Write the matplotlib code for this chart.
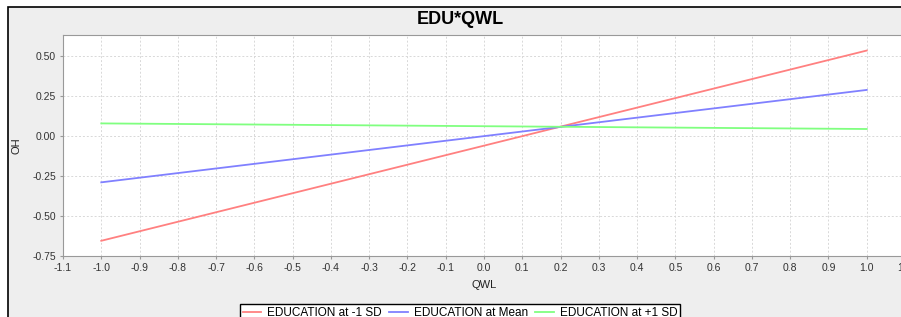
import matplotlib
matplotlib.use('Agg')
import matplotlib.pyplot as plt
from matplotlib.patches import Rectangle

# data
qwl = [-1.0, 1.0]
edu_low = [-0.655, 0.533]
edu_mean = [-0.29, 0.287]
edu_high = [0.078, 0.043]
series_labels = ["EDUCATION at -1 SD", "EDUCATION at Mean", "EDUCATION at +1 SD"]
series_colors = ["#ff8080", "#8080ff", "#80ff80"]

W, H = 901, 317
plt.rcParams['font.family'] = ['Liberation Sans', 'DejaVu Sans']

fig = plt.figure(figsize=(W / 100, H / 100), dpi=100)
fig.patch.set_facecolor('white')

# chart panel (gray, black border on top/left)
panel = Rectangle((8 / W, -0.1), 1.2, 1 - 7 / H + 0.1, transform=fig.transFigure,
                  facecolor='#eeeeee', edgecolor='black', linewidth=1.2, zorder=-5)
fig.patches.append(panel)

left, right, top, bottom = 63, 905, 35, 256
ax = fig.add_axes([left / W, 1 - bottom / H, (right - left) / W, (bottom - top) / H])
ax.set_zorder(1)
ax.set_facecolor('white')

for ys, lab, col in zip([edu_low, edu_mean, edu_high], series_labels, series_colors):
    ax.plot(qwl, ys, color=col, linewidth=1.3, label=lab)

ax.set_xlim(-1.1, 1.1)
ax.set_ylim(-0.75, 0.63)
ax.set_xticks([round(-1.1 + 0.1 * i, 1) for i in range(23)])
ax.set_xticklabels([f"{-1.1 + 0.1 * i:.1f}" for i in range(23)])
ax.set_yticks([-0.75, -0.5, -0.25, 0.0, 0.25, 0.5])
ax.set_yticklabels(["-0.75", "-0.50", "-0.25", "0.00", "0.25", "0.50"])
ax.grid(True, color='#d8d8d8', linestyle=(0, (2, 2)), linewidth=0.7)
ax.set_axisbelow(True)

for s in ['left', 'bottom', 'top']:
    ax.spines[s].set_color('#999999')
ax.spines['right'].set_visible(False)
ax.tick_params(axis='both', labelsize=7.5, colors='#999999', labelcolor='#333333',
               length=2, width=0.8, pad=3)

ax.set_xlabel("QWL", fontsize=8, color='#222222', labelpad=5)
ax.set_ylabel("OH", fontsize=8, color='#222222', labelpad=8)
fig.text(460 / W, 1 - 20 / H, "EDU*QWL", ha='center', va='center',
         fontsize=13, fontweight='bold')

leg = fig.legend(loc='upper center', bbox_to_anchor=(460 / W, 1 - 298 / H), ncol=3,
                 fontsize=8.5, frameon=True, fancybox=False, edgecolor='black',
                 framealpha=1, handlelength=1.6, handletextpad=0.5, columnspacing=0.6,
                 borderpad=0.25)
leg.set_zorder(2)

fig.savefig('out.png', dpi=100)
